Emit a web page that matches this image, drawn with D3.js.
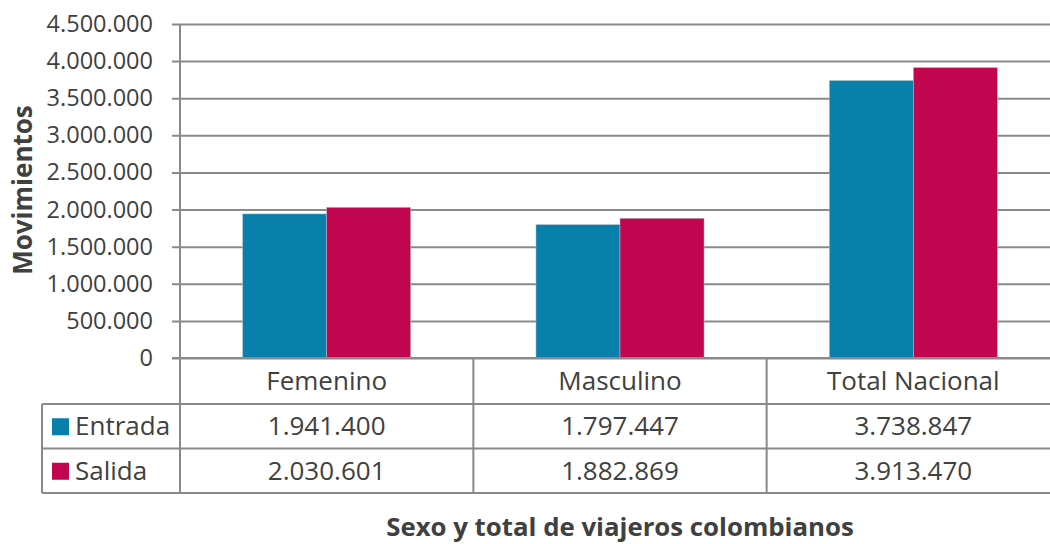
<!DOCTYPE html>
<html><head><meta charset="utf-8">
<script src="https://cdn.jsdelivr.net/npm/d3@7"></script>
<style>body{margin:0;background:#fff}svg{display:block}text{font-family:"Open Sans","Noto Sans",sans-serif;fill:#404040}</style>
</head><body><svg id="c" width="1050" height="544"></svg>
<script>
const categories = ["Femenino","Masculino","Total Nacional"];
const seriesNames = ["Entrada","Salida"];
const entrada = [1941400,1797447,3738847];
const salida = [2030601,1882869,3913470];
const yTicks = [0,500000,1000000,1500000,2000000,2500000,3000000,3500000,4000000,4500000];
const colors = ["#0880ab","#c1064f"];

(function(){
const svg = d3.select("#c");
const pL=180, pR=1060, pT=24, pB=358;
const fmt = v => d3.format(",")(v).replace(/,/g,".");
const x = d3.scaleBand().domain(categories).range([pL,pR]).paddingInner(0).paddingOuter(0);
const y = d3.scaleLinear().domain([0,4500000]).range([pB,pT]);
const xs = d3.scaleBand().domain(seriesNames).range([0,x.bandwidth()]).paddingInner(0).paddingOuter(0.745);
const grid="#8a8a8a";

const yAxis = d3.axisLeft(y).tickValues(yTicks).tickFormat(fmt).tickSize(-(pR-pL)).tickPadding(19);
const ga = svg.append("g").attr("transform",`translate(${pL},0)`).call(yAxis);
ga.select(".domain").remove();
ga.selectAll(".tick line").attr("stroke",grid).attr("stroke-width",2).attr("x1",-8);
ga.selectAll(".tick text").style("font-size","23.5px").attr("fill","#404040").attr("x",-27);

const data = [entrada, salida];
seriesNames.forEach((s,i)=>{
  svg.append("g").selectAll("rect").data(categories).join("rect")
    .attr("x",c=>x(c)+xs(s)).attr("width",xs.bandwidth())
    .attr("y",(c,j)=>y(data[i][j])).attr("height",(c,j)=>pB-y(data[i][j]))
    .attr("fill",colors[i]).attr("stroke","#b9c7cf").attr("stroke-width",0.5);
});

svg.append("line").attr("x1",pL-8).attr("x2",pR).attr("y1",pB).attr("y2",pB).attr("stroke",grid).attr("stroke-width",2);
const tBottom=493, rows=[404,448.5,493];
svg.append("line").attr("x1",pL).attr("x2",pL).attr("y1",pT).attr("y2",tBottom).attr("stroke",grid).attr("stroke-width",2);
rows.forEach(r=>svg.append("line").attr("x1",42).attr("x2",pR).attr("y1",r).attr("y2",r).attr("stroke",grid).attr("stroke-width",2));
svg.append("line").attr("x1",42).attr("x2",42).attr("y1",rows[0]).attr("y2",tBottom).attr("stroke",grid).attr("stroke-width",2);
categories.slice(1).forEach(c=>svg.append("line").attr("x1",x(c)).attr("x2",x(c)).attr("y1",pB).attr("y2",tBottom).attr("stroke",grid).attr("stroke-width",2));
svg.append("g").selectAll("text").data(categories).join("text")
  .attr("x",c=>x(c)+x.bandwidth()/2).attr("y",390).attr("text-anchor","middle").style("font-size","26px").text(c=>c);
seriesNames.forEach((s,i)=>{
  const cy=(rows[i]+rows[i+1])/2;
  svg.append("rect").attr("x",52).attr("y",cy-8).attr("width",17).attr("height",17).attr("fill",colors[i]);
  svg.append("text").attr("x",75).attr("y",cy+9).style("font-size","26px").text(s);
  svg.append("g").selectAll("text").data(categories).join("text")
    .attr("x",c=>x(c)+x.bandwidth()/2).attr("y",cy+9).attr("text-anchor","middle").style("font-size","26px")
    .text((c,j)=>fmt(data[i][j]));
});
svg.append("text").attr("transform","translate(32,190) rotate(-90)").attr("text-anchor","middle")
  .style("font-size","26px").style("font-weight","bold").text("Movimientos");
svg.append("text").attr("x",620).attr("y",536).attr("text-anchor","middle")
  .style("font-size","25.8px").style("font-weight","bold").text("Sexo y total de viajeros colombianos");
})();
</script></body></html>
